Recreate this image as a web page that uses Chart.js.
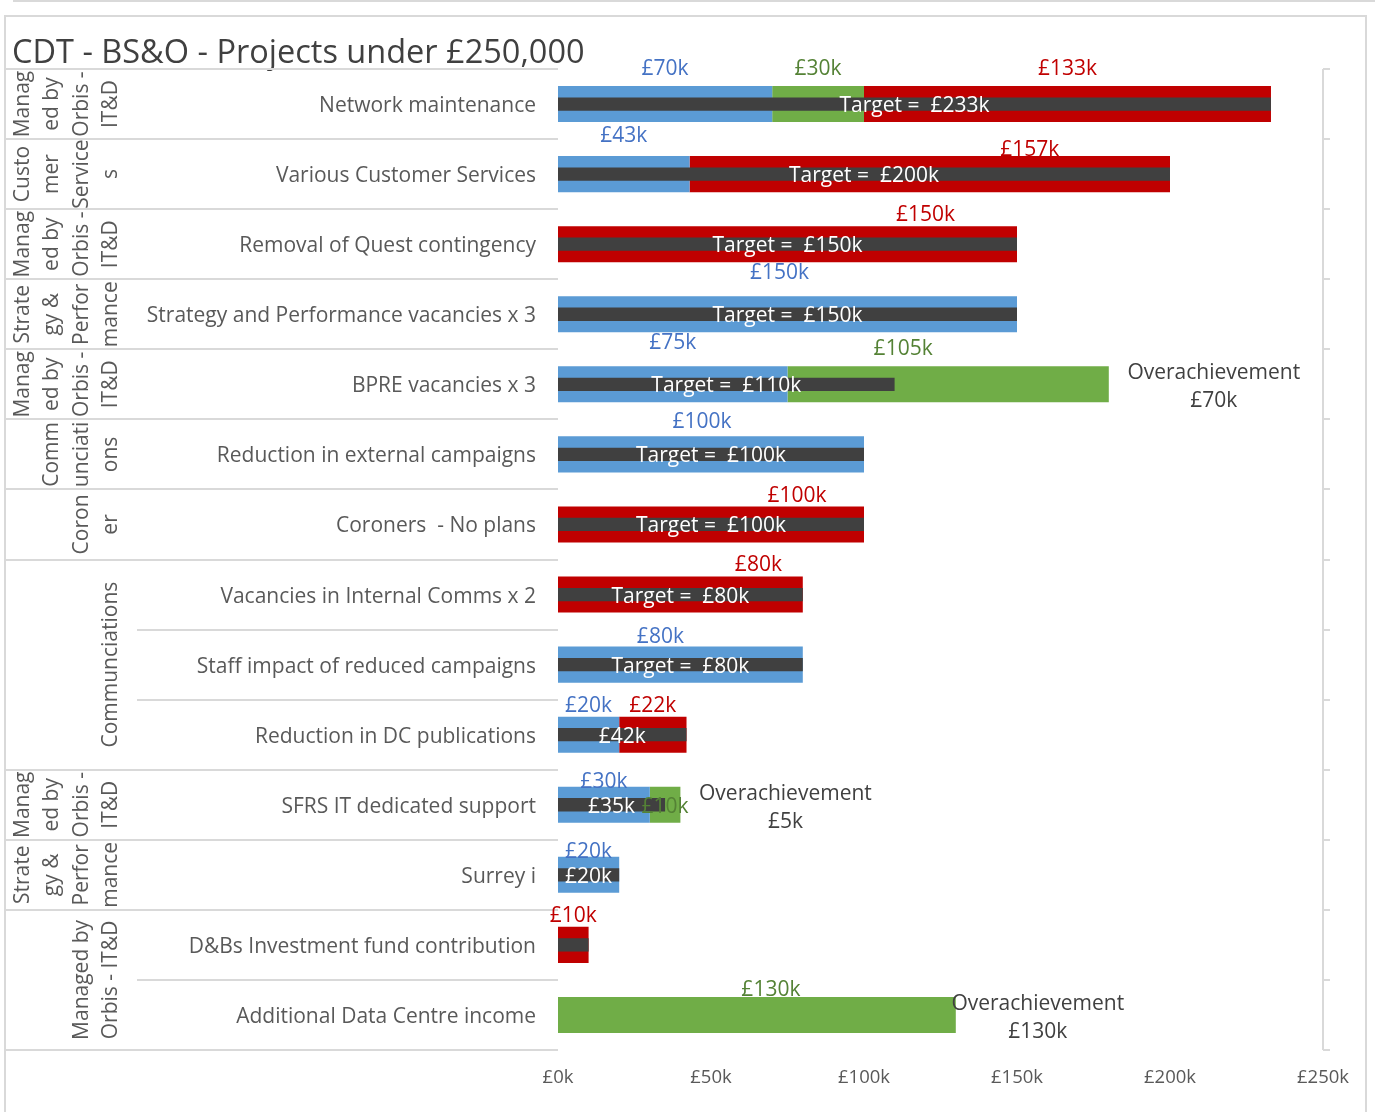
<!DOCTYPE html>
<html>
<head>
<meta charset="utf-8">
<script src="https://cdn.jsdelivr.net/npm/chart.js@4.4.1/dist/chart.umd.min.js"></script>
<style>
  html, body { margin: 0; padding: 0; background: #fff; }
  canvas { display: block; }
</style>
</head>
<body>
<canvas id="my-chart" width="1375" height="1112"></canvas>
<script>
const chartTitle = "CDT - BS&O - Projects under £250,000";

const categories = [
  "Network maintenance",
  "Various Customer Services",
  "Removal of Quest contingency",
  "Strategy and Performance vacancies x 3",
  "BPRE vacancies x 3",
  "Reduction in external campaigns",
  "Coroners  - No plans",
  "Vacancies in Internal Comms x 2",
  "Staff impact of reduced campaigns",
  "Reduction in DC publications",
  "SFRS IT dedicated support",
  "Surrey i",
  "D&Bs Investment fund contribution",
  "Additional Data Centre income"
];

// group labels (as wrapped in the original) and how many rows each spans
const groupLines = [
  ["Manag", "ed by", "Orbis -", "IT&D"],
  ["Custo", "mer", "Service", "s"],
  ["Manag", "ed by", "Orbis -", "IT&D"],
  ["Strate", "gy &", "Perfor", "mance"],
  ["Manag", "ed by", "Orbis -", "IT&D"],
  ["Comm", "unciati", "ons"],
  ["Coron", "er"],
  ["Communciations"],
  ["Manag", "ed by", "Orbis -", "IT&D"],
  ["Strate", "gy &", "Perfor", "mance"],
  ["Managed by", "Orbis - IT&D"]
];
const groupSizes = [1, 1, 1, 1, 1, 1, 1, 3, 1, 1, 2];

// values in £k
const blueValues  = [70, 43, 0, 150, 75, 100, 0, 0, 80, 20, 30, 20, 0, 0];
const greenValues = [30, 0, 0, 0, 105, 0, 0, 0, 0, 0, 10, 0, 0, 130];
const redValues   = [133, 157, 150, 0, 0, 0, 100, 80, 0, 22, 0, 0, 10, 0];
const targets     = [233, 200, 150, 150, 110, 100, 100, 80, 80, 42, 35, 20, 10, 0];
const targetLabels = [
  "Target =  £233k", "Target =  £200k", "Target =  £150k", "Target =  £150k",
  "Target =  £110k", "Target =  £100k", "Target =  £100k", "Target =  £80k",
  "Target =  £80k", "£42k", "£35k", "£20k", "", ""
];
const xTicks = [0, 50, 100, 150, 200, 250];

const FONT = "'Open Sans', sans-serif";
const GRID = "#d9d9d9";
const labelColours = ["#4472C4", "#548235", "#C00000"];

// small hand nudges for data labels, [dx px, dy px], key = row-series
const labelNudge = {
  "0-0": [0, -5], "0-1": [0, -5], "0-2": [0, -5],
  "1-0": [0, -8], "1-2": [100, 6],
  "2-2": [138, 1],
  "3-0": [-8, -11],
  "4-0": [0, -11], "4-1": [-45, -5],
  "5-0": [-9, -2],
  "6-2": [86, 2],
  "7-2": [78, 1],
  "8-0": [-20, 2],
  "9-0": [0, 1], "9-2": [0, 1],
  "10-0": [0, 7], "10-1": [0, 32],
  "11-0": [0, 7],
  "12-2": [0, 1],
  "13-1": [14, 5]
};

function rowBoundary(yScale, i) {
  // boundary above row i (i may equal categories.length for the bottom)
  if (i <= 0) return yScale.top;
  if (i >= categories.length) return yScale.bottom;
  return (yScale.getPixelForValue(i - 1) + yScale.getPixelForValue(i)) / 2;
}

const decorations = {
  id: "decorations",
  beforeDraw(chart) {
    const ctx = chart.ctx;
    const yScale = chart.scales.y;
    const area = chart.chartArea;
    ctx.save();

    // frame
    ctx.strokeStyle = GRID;
    ctx.lineWidth = 2;
    ctx.beginPath();
    ctx.moveTo(13, 1); ctx.lineTo(1375, 1);
    ctx.stroke();
    ctx.strokeRect(5, 16, 1361, 1110);

    // title
    ctx.fillStyle = "#404040";
    ctx.font = "32.5px " + FONT;
    ctx.textBaseline = "middle";
    ctx.textAlign = "left";
    ctx.fillText(chartTitle, 12, 54);

    // table lines on the left
    const groupStarts = new Set([0]);
    let acc = 0;
    groupSizes.forEach((n) => { acc += n; groupStarts.add(acc); });
    ctx.lineWidth = 2;
    for (let i = 0; i <= categories.length; i++) {
      const y = Math.round(rowBoundary(yScale, i));
      ctx.beginPath();
      ctx.moveTo(groupStarts.has(i) ? 6 : 137, y);
      ctx.lineTo(area.left, y);
      ctx.stroke();
    }

    // right side axis line with ticks
    ctx.beginPath();
    ctx.moveTo(area.right, area.top);
    ctx.lineTo(area.right, area.bottom);
    ctx.stroke();
    for (let i = 0; i <= categories.length; i++) {
      const y = Math.round(rowBoundary(yScale, i));
      ctx.beginPath();
      ctx.moveTo(area.right, y);
      ctx.lineTo(area.right + 7, y);
      ctx.stroke();
    }

    // rotated group labels
    ctx.fillStyle = "#595959";
    ctx.font = "21px " + FONT;
    ctx.textAlign = "center";
    ctx.textBaseline = "middle";
    let start = 0;
    groupLines.forEach((lines, g) => {
      const end = start + groupSizes[g] - 1;
      const yc = (yScale.getPixelForValue(start) + yScale.getPixelForValue(end)) / 2;
      lines.forEach((line, k) => {
        const x = 111 - (lines.length - 1 - k) * 29.3;
        ctx.save();
        ctx.translate(x, yc);
        ctx.rotate(-Math.PI / 2);
        ctx.fillText(line, 0, 0);
        ctx.restore();
      });
      start = end + 1;
    });
    ctx.restore();
  },
  afterDatasetsDraw(chart) {
    const ctx = chart.ctx;
    ctx.save();
    ctx.font = "21px " + FONT;
    ctx.textAlign = "center";
    ctx.textBaseline = "middle";

    // segment labels (datasets 1..3)
    [1, 2, 3].forEach((di, s) => {
      const meta = chart.getDatasetMeta(di);
      const values = chart.data.datasets[di].data;
      meta.data.forEach((bar, i) => {
        if (!values[i]) return;
        const nudge = labelNudge[i + "-" + s] || [0, 0];
        const x = (bar.x + bar.base) / 2 + nudge[0];
        const y = bar.y - bar.height / 2 - 12 + nudge[1];
        ctx.fillStyle = labelColours[s];
        ctx.fillText("£" + values[i] + "k", x, y);
      });
    });

    // target labels in white
    const tMeta = chart.getDatasetMeta(0);
    tMeta.data.forEach((bar, i) => {
      if (!targetLabels[i]) return;
      ctx.fillStyle = "#ffffff";
      ctx.fillText(targetLabels[i], (bar.x + bar.base) / 2, bar.y + 2);
    });

    // overachievement notes
    const xScale = chart.scales.x;
    const yScale = chart.scales.y;
    ctx.fillStyle = "#404040";
    categories.forEach((c, i) => {
      const total = blueValues[i] + greenValues[i] + redValues[i];
      const over = total - targets[i];
      if (greenValues[i] > 0 && over > 0) {
        const x = xScale.getPixelForValue(total) + (over > 100 ? 82 : 105);
        const y = yScale.getPixelForValue(i);
        ctx.fillText("Overachievement", x, y - 11);
        ctx.fillText("£" + over + "k", x, y + 17);
      }
    });
    ctx.restore();
  }
};

const ctx = document.getElementById("my-chart").getContext("2d");
const chart = new Chart(ctx, {
  type: "bar",
  data: {
    labels: categories,
    datasets: [
      {
        label: "Target",
        data: targets,
        backgroundColor: "#404040",
        stack: "target",
        grouped: false,
        categoryPercentage: 1,
        barPercentage: 0.19,
        order: 0
      },
      {
        label: "Achieved",
        data: blueValues,
        backgroundColor: "#5B9BD5",
        stack: "main",
        categoryPercentage: 1,
        barPercentage: 0.515,
        order: 1
      },
      {
        label: "Over",
        data: greenValues,
        backgroundColor: "#70AD47",
        stack: "main",
        categoryPercentage: 1,
        barPercentage: 0.515,
        order: 1
      },
      {
        label: "Outstanding",
        data: redValues,
        backgroundColor: "#C00000",
        stack: "main",
        categoryPercentage: 1,
        barPercentage: 0.515,
        order: 1
      }
    ]
  },
  options: {
    indexAxis: "y",
    responsive: false,
    animation: false,
    layout: { padding: { top: 69, right: 52, left: 0, bottom: 0 } },
    plugins: {
      legend: { display: false },
      tooltip: { enabled: false }
    },
    scales: {
      x: {
        stacked: true,
        min: xTicks[0],
        max: xTicks[xTicks.length - 1],
        afterBuildTicks: (scale) => { scale.ticks = xTicks.map((v) => ({ value: v })); },
        afterFit: (scale) => { scale.height = 62; },
        grid: { display: false, drawTicks: false },
        border: { display: false },
        ticks: {
          padding: 17,
          color: "#595959",
          font: { family: FONT, size: 18.5 },
          callback: (v) => "£" + v + "k"
        }
      },
      y: {
        stacked: true,
        afterFit: (scale) => { scale.width = 558; },
        grid: { display: false, drawTicks: false },
        border: { display: false },
        ticks: {
          padding: 22,
          labelOffset: 2,
          color: "#595959",
          font: { family: FONT, size: 21 }
        }
      }
    }
  },
  plugins: [decorations]
});
</script>
</body>
</html>
